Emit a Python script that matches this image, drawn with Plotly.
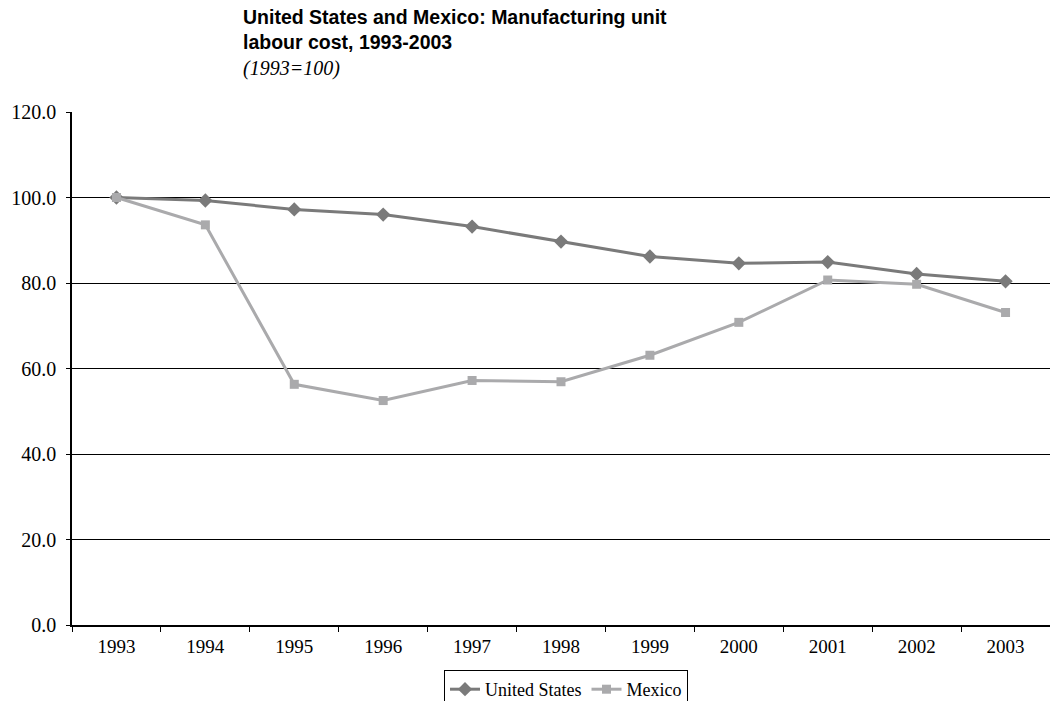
import plotly.graph_objects as go

years = ["1993", "1994", "1995", "1996", "1997", "1998", "1999", "2000", "2001", "2002", "2003"]
united_states = [100.0, 99.3, 97.2, 96.0, 93.2, 89.7, 86.2, 84.6, 84.9, 82.1, 80.4]
mexico = [100.0, 93.6, 56.3, 52.5, 57.2, 56.9, 63.1, 70.8, 80.7, 79.7, 73.1]
y_ticks = [0, 20, 40, 60, 80, 100, 120]

US_COLOR = "rgb(122,122,122)"
MX_COLOR = "rgb(170,170,172)"

fig = go.Figure()
fig.add_trace(go.Scatter(
    x=years, y=united_states, name="United States", mode="lines+markers",
    line=dict(color=US_COLOR, width=3),
    marker=dict(symbol="diamond", size=11, color=US_COLOR),
))
fig.add_trace(go.Scatter(
    x=years, y=mexico, name="Mexico", mode="lines+markers",
    line=dict(color=MX_COLOR, width=3),
    marker=dict(symbol="square", size=9, color=MX_COLOR),
))

serif = "Liberation Serif, Times New Roman, serif"
sans = "Liberation Sans, Arial, sans-serif"

T, B = 112, 625
H = B - T


def py(px):
    return (B - px) / H


fig.update_layout(
    width=1050, height=701,
    margin=dict(l=72, r=0, t=T, b=701 - B, autoexpand=False),
    paper_bgcolor="white", plot_bgcolor="white",
    font=dict(family=serif, size=18, color="black"),
    showlegend=True,
    legend=dict(
        orientation="h", x=(566 - 72) / 978, xanchor="center", y=py(670), yanchor="top",
        bordercolor="black", borderwidth=1, bgcolor="white",
        font=dict(family=serif, size=18, color="black"),
        itemwidth=30, tracegroupgap=0,
    ),
    xaxis=dict(
        type="category", range=[-0.5, 10.5],
        showline=True, linecolor="black", linewidth=2,
        ticks="outside", ticklen=5, tickcolor="black", tickson="boundaries",
        showgrid=False, zeroline=False,
        tickfont=dict(family=serif, size=19, color="black"),
        ticklabelstandoff=3,
    ),
    yaxis=dict(
        range=[0, 120], tickvals=y_ticks, tickformat=".1f",
        showline=True, linecolor="black", linewidth=1.5,
        ticks="outside", ticklen=4, tickcolor="black",
        showgrid=True, gridcolor="black", gridwidth=1, zeroline=False,
        tickfont=dict(family=serif, size=20, color="black"),
        ticklabelstandoff=6,
    ),
    annotations=[
        dict(
            text="<b>United States and Mexico: Manufacturing unit<br>labour cost, 1993-2003</b>",
            xref="paper", yref="paper", x=(241 - 72) / 978, y=py(30),
            xanchor="left", yanchor="middle", align="left", showarrow=False,
            font=dict(family=sans, size=19.5, color="black"),
        ),
        dict(
            text="<i>(1993=100)</i>",
            xref="paper", yref="paper", x=(241 - 72) / 978, y=py(68),
            xanchor="left", yanchor="middle", align="left", showarrow=False,
            font=dict(family=serif, size=20, color="black"),
        ),
    ],
)

fig.write_html(
    "out.html",
    config={"displayModeBar": False},
    post_script="document.body.style.margin='0';document.body.style.overflow='hidden';",
)
